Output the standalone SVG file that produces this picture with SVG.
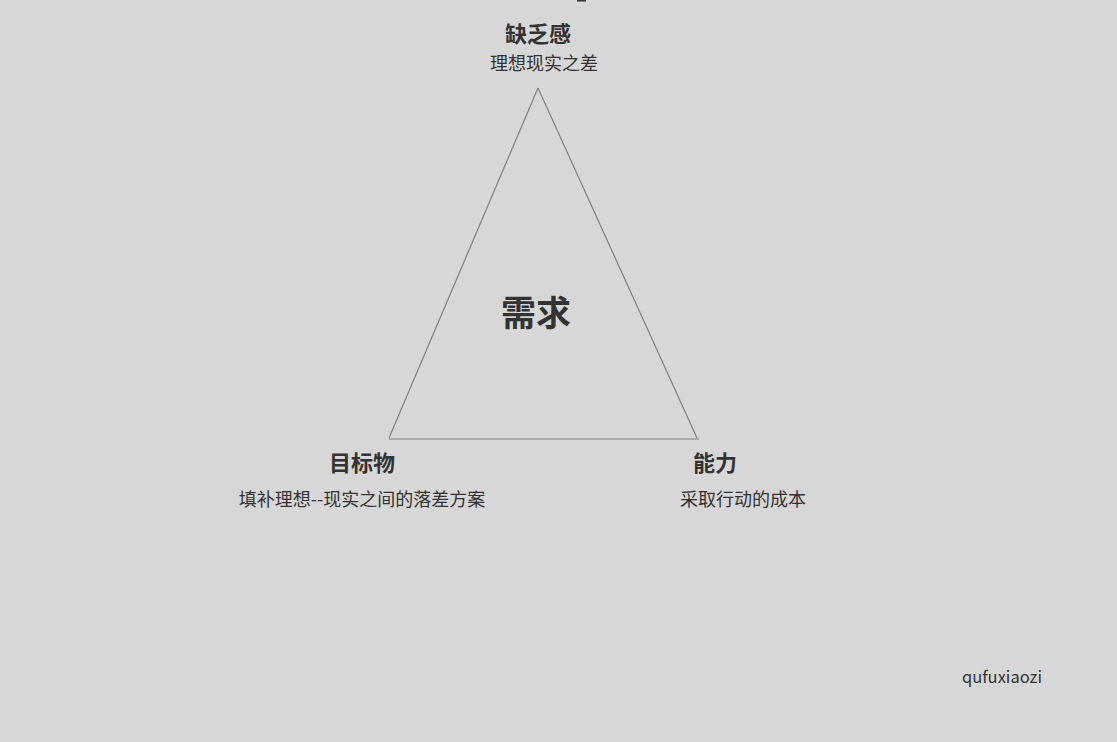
<svg xmlns="http://www.w3.org/2000/svg" width="1117" height="742" viewBox="0 0 1117 742">
<style>
.t{font-family:"Microsoft YaHei","Noto Sans CJK SC",sans-serif;fill:#333;text-anchor:middle}
.b{font-weight:bold;font-size:22px}
.s{font-size:18px}
.edge{fill:none;stroke:#7f7f7f;stroke-width:1.2}
</style>
<rect width="1117" height="742" fill="#d7d7d7"/>
<rect x="577" y="0" width="9" height="1.5" fill="#333"/>
<g id="connectors">
<path class="edge" d="M538 88 L389 438"/>
<path class="edge" d="M538 88 L697 438"/>
<path class="edge" d="M389 439 L699 439"/>
</g>
<g id="node-quefagan">
<text class="t b" x="538" y="42">缺乏感</text>
<text class="t s" x="544" y="70">理想现实之差</text>
</g>
<g id="node-xuqiu">
<text class="t" x="536" y="326" font-size="35" font-weight="bold">需求</text>
</g>
<g id="node-mubiaowu">
<text class="t b" x="362" y="471">目标物</text>
<text class="t s" x="362" y="506">填补理想--现实之间的落差方案</text>
</g>
<g id="node-nengli">
<text class="t b" x="715" y="471">能力</text>
<text class="t s" x="743" y="506">采取行动的成本</text>
</g>
<g id="watermark">
<text class="t" style="font-size:16.5px" x="1002" y="683">qufuxiaozi</text>
</g>
</svg>
